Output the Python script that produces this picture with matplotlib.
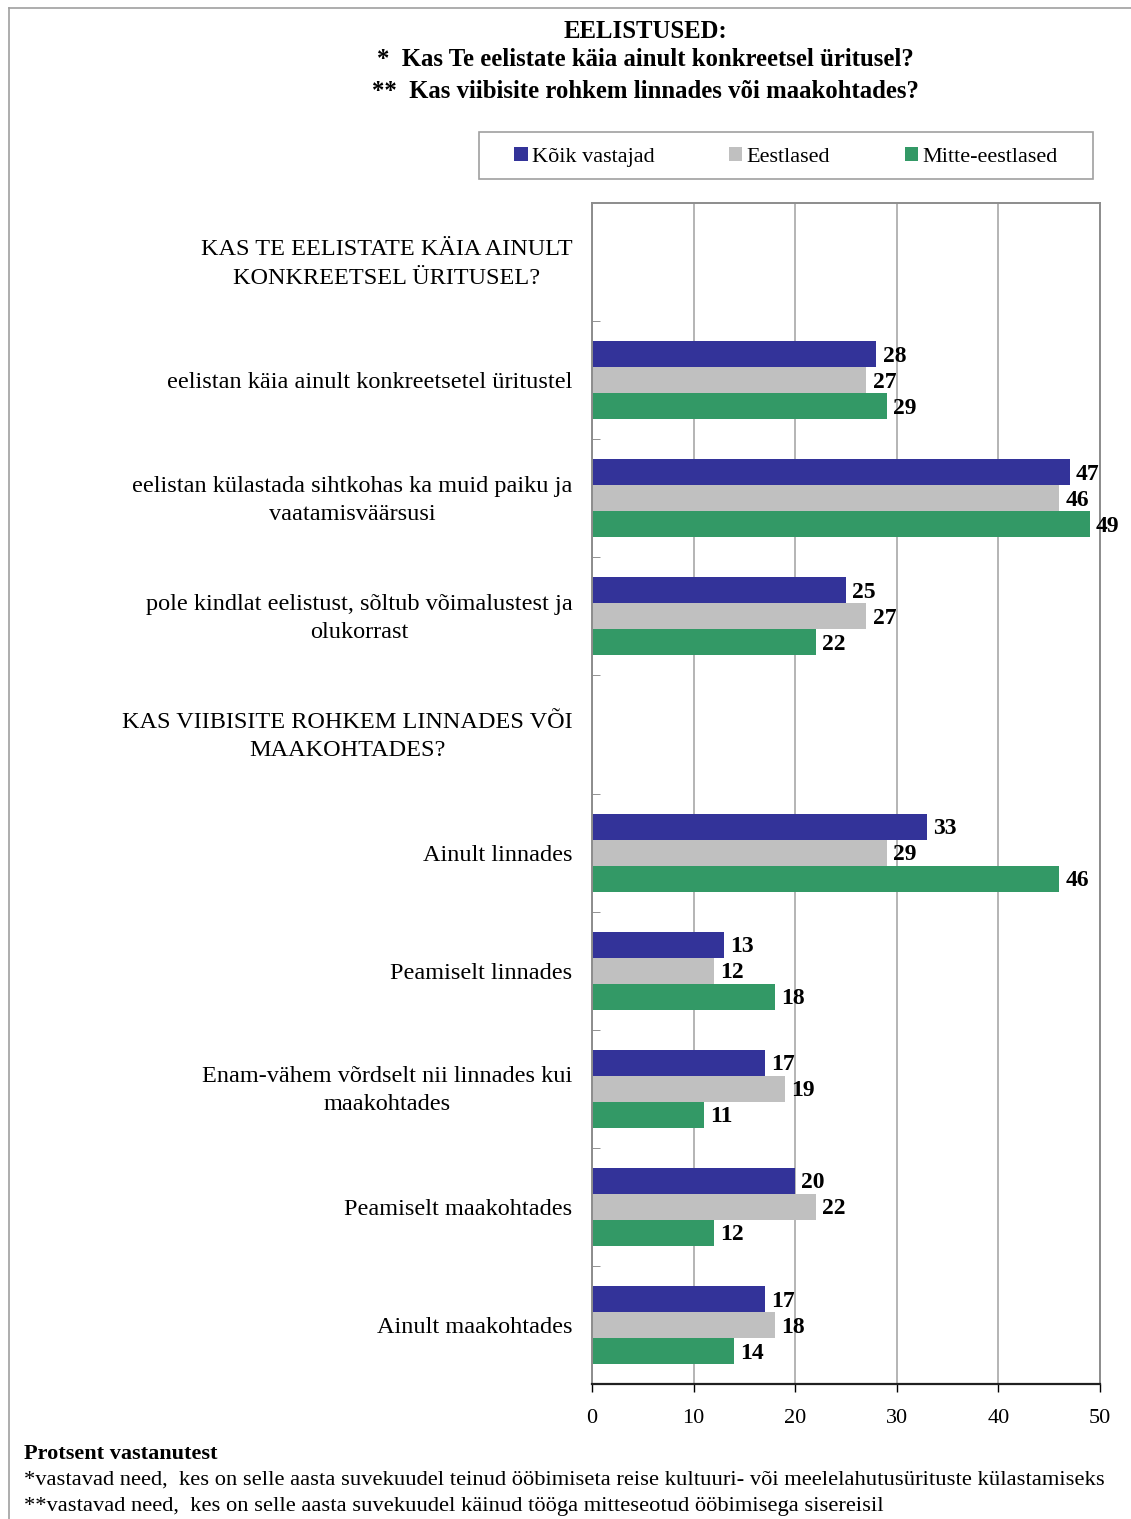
import matplotlib
matplotlib.use("Agg")
import matplotlib.pyplot as plt
import matplotlib.transforms as mtransforms
from matplotlib.lines import Line2D
from matplotlib.patches import Patch, Rectangle
import numpy as np

categories = [
    "KAS TE EELISTATE KÄIA AINULT\nKONKREETSEL ÜRITUSEL?",
    "eelistan käia ainult konkreetsetel üritustel",
    "eelistan külastada sihtkohas ka muid paiku ja\nvaatamisväärsusi",
    "pole kindlat eelistust, sõltub võimalustest ja\nolukorrast",
    "KAS VIIBISITE ROHKEM LINNADES VÕI\nMAAKOHTADES?",
    "Ainult linnades",
    "Peamiselt linnades",
    "Enam-vähem võrdselt nii linnades kui\nmaakohtades",
    "Peamiselt maakohtades",
    "Ainult maakohtades",
]
koik = [None, 28, 47, 25, None, 33, 13, 17, 20, 17]
eestlased = [None, 27, 46, 27, None, 29, 12, 19, 22, 18]
mitte_eestlased = [None, 29, 49, 22, None, 46, 18, 11, 12, 14]

series_names = ["Kõik vastajad", "Eestlased", "Mitte-eestlased"]
colors = ["#333399", "#c0c0c0", "#339966"]
x_ticks = [0, 10, 20, 30, 40, 50]

plt.rcParams["font.family"] = ["Liberation Serif", "DejaVu Serif"]

W, H = 1131, 1519
fig = plt.figure(figsize=(W / 100, H / 100), dpi=100)
ax = fig.add_axes([592 / W, 1 - 1384 / H, 508 / W, 1181 / H])

n = len(categories)
pos = np.arange(n)
bar_h = 0.22
offsets = [-bar_h, 0.0, bar_h]

for series, color, off in zip([koik, eestlased, mitte_eestlased], colors, offsets):
    for i, v in enumerate(series):
        if v is None:
            continue
        ax.barh(pos[i] + off, v, height=bar_h, color=color, edgecolor="none", zorder=2)
        ax.annotate(str(v), (v, pos[i] + off), xytext=(4.5, -1.5), textcoords="offset points",
                    ha="left", va="center", fontsize=17, fontweight="bold", zorder=3)

ax.set_xlim(0, 50)
ax.set_ylim(n - 0.5, -0.5)
ax.set_xticks(x_ticks)
ax.set_xticklabels([str(t) for t in x_ticks], fontsize=16)
ax.tick_params(axis="x", direction="out", length=6, width=1, color="black", pad=12)
ax.set_yticks(pos)
ax.set_yticklabels(categories, fontsize=17.5, multialignment="center", linespacing=1.45)
ax.tick_params(axis="y", which="major", length=0, pad=14)
ax.set_yticks(np.arange(0.5, n - 1, 1.0), minor=True)
ax.tick_params(axis="y", which="minor", direction="in", length=6, color="#808080")

# two-line labels sit slightly higher in the original
shift_up = mtransforms.ScaledTranslation(0, 3 / 72, fig.dpi_scale_trans)
for label in ax.get_yticklabels():
    if "\n" in label.get_text():
        label.set_transform(label.get_transform() + shift_up)

ax.xaxis.grid(True, color="#a0a0a0", linewidth=1.1, zorder=0)
ax.set_axisbelow(True)
for side in ["top", "right", "left"]:
    ax.spines[side].set_color("#8c8c8c")
    ax.spines[side].set_linewidth(1.4)
ax.spines["bottom"].set_color("#202020")
ax.spines["bottom"].set_linewidth(1.6)

# title
title_lines = [
    (31, "EELISTUSED:"),
    (60, "*  Kas Te eelistate käia ainult konkreetsel üritusel?"),
    (91, "**  Kas viibisite rohkem linnades või maakohtades?"),
]
for y, txt in title_lines:
    fig.text(645 / W, 1 - y / H, txt, ha="center", va="center",
             fontsize=17.8, fontweight="bold")

# legend (frame drawn separately for wider side padding)
fig.add_artist(Rectangle((479 / W, 1 - 179 / H), 614 / W, 47 / H, transform=fig.transFigure,
                         facecolor="white", edgecolor="#a0a0a0", linewidth=1.2, zorder=1))
handles = [Patch(facecolor=c, edgecolor="none", label=s) for s, c in zip(series_names, colors)]
leg = fig.legend(handles=handles, loc="center", ncol=3,
                 bbox_to_anchor=((479 + 1093) / 2 / W, 1 - 157 / H),
                 fontsize=16, frameon=False,
                 handlelength=0.6, handleheight=0.6, handletextpad=0.2,
                 columnspacing=3.35, borderpad=0.0, borderaxespad=0)
leg.set_zorder(2)

# footnotes
fig.text(24 / W, 1 - 1454 / H, "Protsent vastanutest", ha="left", va="center",
         fontsize=16, fontweight="bold")
fig.text(24 / W, 1 - 1480 / H,
         "*vastavad need,  kes on selle aasta suvekuudel teinud ööbimiseta reise kultuuri- või meelelahutusürituste külastamiseks",
         ha="left", va="center", fontsize=16.2)
fig.text(24 / W, 1 - 1507 / H,
         "**vastavad need,  kes on selle aasta suvekuudel käinud tööga mitteseotud ööbimisega sisereisil",
         ha="left", va="center", fontsize=16.2)

# page border lines
fig.add_artist(Line2D([9 / W, 1.0], [1 - 8 / H, 1 - 8 / H], color="#a0a0a0", linewidth=1.2))
fig.add_artist(Line2D([9 / W, 9 / W], [0.0, 1 - 8 / H], color="#a0a0a0", linewidth=1.2))

fig.savefig("out.png", dpi=100)
